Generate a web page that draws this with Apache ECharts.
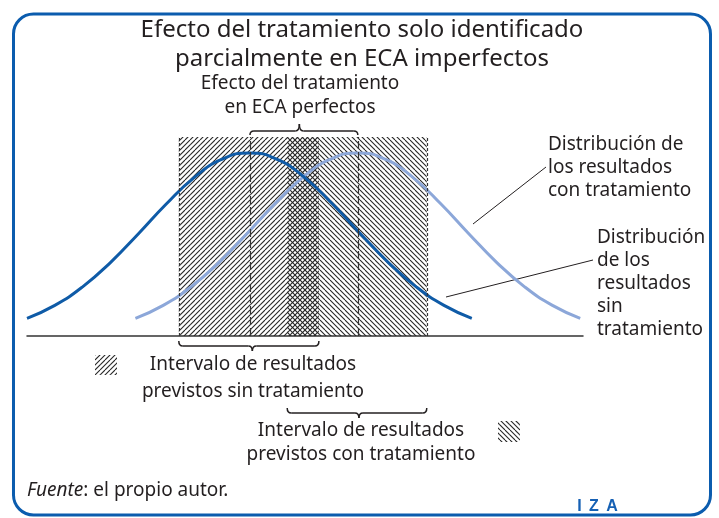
<!DOCTYPE html>
<html><head><meta charset="utf-8">
<script src="https://cdn.jsdelivr.net/npm/echarts@6/dist/echarts.min.js"></script>
<style>html,body{margin:0;padding:0;background:#fff}#c{width:719px;height:518px}</style>
</head><body><div id="c"></div>
<script>
// ---- data (outcome scale 0..100, density scale 0..100) ----
const darkX  = [0, 5, 10, 15, 20, 25, 30, 35, 40, 45, 50, 55, 60, 65, 70, 75, 80];
const darkY  = [8.9, 15.4, 24.7, 36.9, 51.3, 66.2, 79.5, 88.7, 92, 88.7, 79.5, 66.2, 51.3, 36.9, 24.7, 15.4, 8.9];
const lightX = [19.5, 24.5, 29.5, 34.5, 39.5, 44.5, 49.5, 54.5, 59.5, 64.5, 69.5, 74.5, 79.5, 84.5, 89.5, 94.5, 99.5];
const lightY = [8.9, 15.4, 24.7, 36.9, 51.3, 66.2, 79.5, 88.7, 92, 88.7, 79.5, 66.2, 51.3, 36.9, 24.7, 15.4, 8.9];
const intervalLo = [27.3, 46.8];   // sin tratamiento, con tratamiento
const intervalHi = [52.5, 71.9];
const means = [40.1, 59.5];

const FONT = '"Noto Sans", "Liberation Sans", sans-serif';
const TXT = '#231f20';
const HATCH = '#262626';

function makeHatch(dir) {
  const s = 10, c = document.createElement('canvas');
  c.width = s; c.height = s;
  const g = c.getContext('2d');
  g.strokeStyle = HATCH; g.lineWidth = 1.1;
  for (let o = -10; o <= 10; o += 5) {
    g.beginPath();
    if (dir === '/') { g.moveTo(o, s); g.lineTo(o + s, 0); }
    else { g.moveTo(o, 0); g.lineTo(o + s, s); }
    g.stroke();
  }
  return { image: c, repeat: 'repeat' };
}
const patterns = [makeHatch('/'), makeHatch('\\')];

const chart = echarts.init(document.getElementById('c'), null, { renderer: 'canvas' });

chart.setOption({
  animation: false,
  grid: { left: 27, right: 136, top: 137, bottom: 182 },
  xAxis: { type: 'value', min: 0, max: 100, axisLine: { show: true, lineStyle: { color: '#333', width: 1.5 } },
           axisTick: { show: false }, axisLabel: { show: false }, splitLine: { show: false } },
  yAxis: { type: 'value', min: 0, max: 100, show: false, splitLine: { show: false } },
  series: [
    {
      type: 'custom', z: 1, silent: true,
      data: intervalLo.map((lo, i) => [lo, intervalHi[i], i]),
      encode: { x: [0, 1] },
      renderItem: function (params, api) {
        const p1 = api.coord([api.value(0), 100]);
        const p2 = api.coord([api.value(1), 0]);
        return { type: 'rect', shape: { x: p1[0], y: p1[1], width: p2[0] - p1[0], height: p2[1] - p1[1] },
                 style: { fill: patterns[api.value(2)], stroke: null } };
      }
    },
    {
      type: 'line', data: [], z: 2, silent: true,
      markLine: {
        silent: true, symbol: 'none', label: { show: false }, animation: false,
        data: [
          { xAxis: intervalLo[0], lineStyle: { type: [3, 2], color: '#333', width: 1.2 } },
          { xAxis: intervalHi[1], lineStyle: { type: [3, 2], color: '#333', width: 1.2 } },
          { xAxis: means[0], lineStyle: { type: [8, 3], color: '#333', width: 1.2 } },
          { xAxis: means[1], lineStyle: { type: [8, 3], color: '#333', width: 1.2 } }
        ]
      }
    },
    {
      type: 'line', z: 3, smooth: true, showSymbol: false, silent: true,
      data: lightX.map((x, i) => [x, lightY[i]]),
      lineStyle: { color: '#8ca7d9', width: 3 }
    },
    {
      type: 'line', z: 4, smooth: true, showSymbol: false, silent: true,
      data: darkX.map((x, i) => [x, darkY[i]]),
      lineStyle: { color: '#0f5ba7', width: 3 }
    }
  ]
});

function px(v) { return chart.convertToPixel({ gridIndex: 0 }, [v, 0])[0]; }

function text(str, x, y, size, align) {
  return { type: 'text', x: x, y: y, silent: true,
    style: { text: str, fontSize: size, fontFamily: FONT, fill: TXT, align: align || 'left', verticalAlign: 'middle' } };
}
function lines(arr, x, y0, lh, size, align) {
  return arr.map((s, i) => text(s, x, y0 + i * lh, size, align));
}
const BS = { stroke: TXT, lineWidth: 1.5, fill: null };
function curve(x1, y1, cx, cy, x2, y2) {
  return { type: 'bezierCurve', silent: true, shape: { x1: x1, y1: y1, cpx1: cx, cpy1: cy, x2: x2, y2: y2 }, style: BS };
}
function seg(x1, y1, x2, y2) {
  return { type: 'line', silent: true, shape: { x1: x1, y1: y1, x2: x2, y2: y2 }, style: BS };
}
function bracket(x1, x2, xt, yh, e, t) {
  const ye = yh + e, yt = yh + t;
  return { type: 'group', silent: true, children: [
    curve(x1, ye, x1, yh, x1 + 4, yh),
    seg(x1 + 4, yh, xt - 4, yh),
    curve(xt - 4, yh, xt, yh, xt, yt),
    curve(xt, yt, xt, yh, xt + 4, yh),
    seg(xt + 4, yh, x2 - 4, yh),
    curve(x2 - 4, yh, x2, yh, x2, ye)
  ] };
}

const b1a = px(means[0]), b1b = px(means[1]);
const b2a = px(intervalLo[0]), b2b = px(intervalHi[0]);
const b3a = px(intervalLo[1]), b3b = px(intervalHi[1]);

const g = [];
g.push({ type: 'rect', silent: true, shape: { x: 13.5, y: 14, width: 697, height: 501, r: 20 },
         style: { stroke: '#0b5cae', lineWidth: 3, fill: null } });
g.push(...lines(['Efecto del tratamiento solo identificado', 'parcialmente en ECA imperfectos'], 362, 30.5, 29, 24, 'center'));
g.push(...lines(['Efecto del tratamiento', 'en ECA perfectos'], 300, 84, 24, 19, 'center'));
g.push(...lines(['Distribución de', 'los resultados', 'con tratamiento'], 548, 145, 23, 19, 'left'));
g.push(...lines(['Distribución', 'de los', 'resultados', 'sin', 'tratamiento'], 597, 238, 23, 19, 'left'));
g.push(...lines(['Intervalo de resultados', 'previstos sin tratamiento'], 253, 365, 27, 19, 'center'));
g.push(...lines(['Intervalo de resultados', 'previstos con tratamiento'], 361, 431, 24, 19, 'center'));
g.push({ type: 'text', x: 27, y: 491, silent: true,
  style: { text: '{i|Fuente}: el propio autor.', fontSize: 19, fontFamily: FONT, fill: TXT, verticalAlign: 'middle',
           rich: { i: { fontStyle: 'italic', fontSize: 19, fontFamily: FONT, fill: TXT } } } });
// IZA logo
[['I', 579.5], ['Z', 594], ['A', 612]].forEach(function (a) {
  g.push({ type: 'text', x: a[1], y: 507, silent: true,
    style: { text: a[0], fontSize: 16, fontWeight: 'bold', fontFamily: '"Liberation Sans", sans-serif', fill: '#1560b4', align: 'center', verticalAlign: 'middle' } });
});
// leader lines
g.push({ type: 'line', silent: true, shape: { x1: 473, y1: 224, x2: 546, y2: 167 }, style: { stroke: TXT, lineWidth: 1 } });
g.push({ type: 'line', silent: true, shape: { x1: 446, y1: 297, x2: 593, y2: 260 }, style: { stroke: TXT, lineWidth: 1 } });
// brackets
g.push(bracket(b1a, b1b, b1a + 0.458 * (b1b - b1a), 131, 4, -7));
g.push(bracket(b2a, b2b, b2a + 0.525 * (b2b - b2a), 346, -5, 5));
g.push(bracket(b3a, b3b, b3a + 0.514 * (b3b - b3a), 413, -5, 5));
// legend swatches
g.push({ type: 'rect', silent: true, shape: { x: 95, y: 355, width: 22, height: 20 }, style: { fill: patterns[0] } });
g.push({ type: 'rect', silent: true, shape: { x: 498, y: 421, width: 22, height: 21 }, style: { fill: patterns[1] } });

chart.setOption({ graphic: g });
</script>
</body></html>
